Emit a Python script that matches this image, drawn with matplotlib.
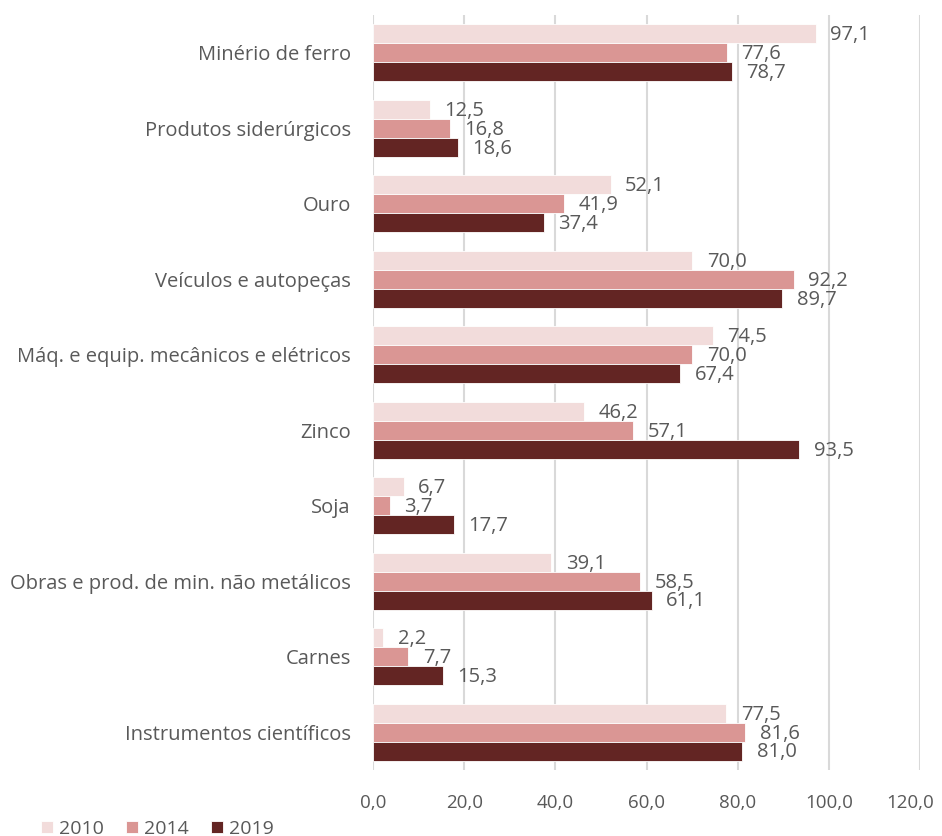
import matplotlib.pyplot as plt
import matplotlib.transforms as mtransforms
import numpy as np

plt.rcParams['font.family'] = ['Open Sans', 'DejaVu Sans']

categorias = ['Minério de ferro', 'Produtos siderúrgicos', 'Ouro',
              'Veículos e autopeças', 'Máq. e equip. mecânicos e elétricos',
              'Zinco', 'Soja', 'Obras e prod. de min. não metálicos',
              'Carnes', 'Instrumentos científicos']
v2010 = [97.1, 12.5, 52.1, 70.0, 74.5, 46.2, 6.7, 39.1, 2.2, 77.5]
v2014 = [77.6, 16.8, 41.9, 92.2, 70.0, 57.1, 3.7, 58.5, 7.7, 81.6]
v2019 = [78.7, 18.6, 37.4, 89.7, 67.4, 93.5, 17.7, 61.1, 15.3, 81.0]
anos = ['2010', '2014', '2019']
cores = ['#F2DCDB', '#DA9694', '#632523']
texto = '#595959'

fig = plt.figure(figsize=(9.42, 8.36), dpi=100)
ax = fig.add_axes([0.396, 0.079, 0.581, 0.903])

y = np.arange(len(categorias))
h = 0.25
for i, (vals, ano, cor) in enumerate(zip([v2010, v2014, v2019], anos, cores)):
    pos = y + (i - 1) * h
    ax.barh(pos, vals, height=h, color=cor, edgecolor='white', linewidth=0.6,
            label=ano, zorder=3)
    for p, v in zip(pos, vals):
        ax.annotate(f'{v:.1f}'.replace('.', ','), (v, p), xytext=(10.5, -1),
                    textcoords='offset points', ha='left', va='center',
                    fontsize=14.5, color=texto, zorder=4)

ax.set_xlim(0, 120)
ax.set_ylim(len(categorias) - 0.5, -0.5)
ax.set_xticks(np.arange(0, 121, 20))
ax.set_xticklabels([f'{t:.1f}'.replace('.', ',') for t in np.arange(0, 121, 20)])
ax.set_yticks(y)
ax.set_yticklabels(categorias)
ax.tick_params(axis='both', length=0, labelsize=13.5, labelcolor=texto)
ax.tick_params(axis='y', labelsize=14.5, pad=16)
ax.tick_params(axis='x', pad=17)
ax.grid(axis='x', color='#D9D9D9', linewidth=1.5, zorder=0)
for s in ax.spines.values():
    s.set_visible(False)

# last tick label nudged left so it stays inside the figure
ultimo = ax.get_xticklabels()[-1]
ultimo.set_transform(ultimo.get_transform() +
                     mtransforms.ScaledTranslation(-7 / 72, 0, fig.dpi_scale_trans))

leg = fig.legend(loc='lower left', bbox_to_anchor=(0.0435, -0.002), ncol=3,
                 frameon=False, fontsize=14, handlelength=0.62, handleheight=0.62,
                 columnspacing=1.15, handletextpad=0.3, borderpad=0,
                 borderaxespad=0, labelcolor=texto)

fig.savefig('out.png', dpi=100)
